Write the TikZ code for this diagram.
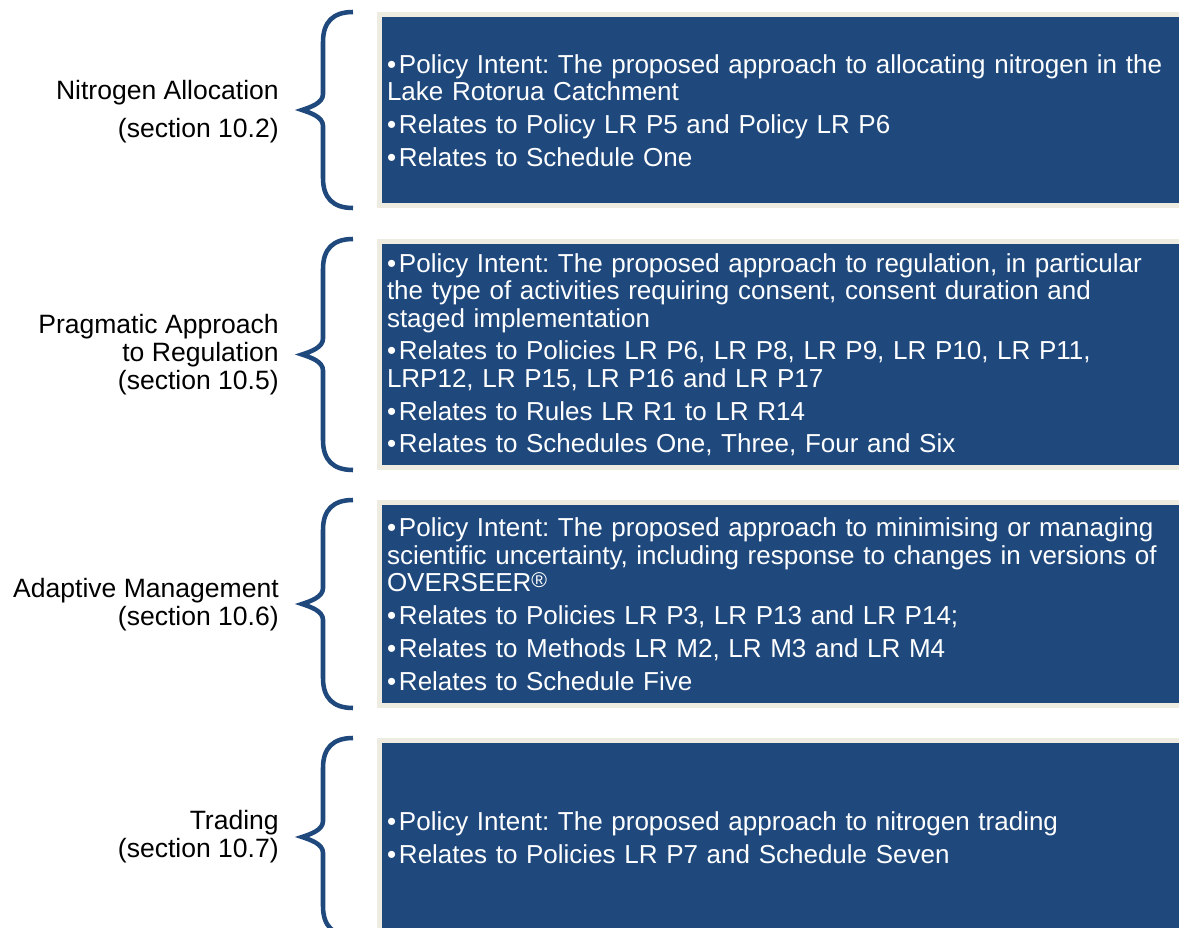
\documentclass[tikz,border=0pt]{standalone}
\usepackage{fontspec}
\setmainfont{Liberation Sans}
\usetikzlibrary{calc}
\definecolor{policyblue}{HTML}{1F497D}
\definecolor{policytan}{HTML}{EEECE1}
\newcommand{\pitem}[1]{\par\hangindent=9pt\hangafter=1\noindent\makebox[9pt][l]{•}#1}
\tikzset{
    policybox/.style={
        rectangle,
        fill=policyblue,
        draw=policytan,
        line width=3.75pt,
        anchor=west,
        text=white,
        text width=700pt,
        align=left,
        inner xsep=6pt,
        inner ysep=0pt,
        font=\fontsize{19.5}{20.6}\selectfont\frenchspacing,
        execute at begin node={\setlength{\parskip}{4pt}\vspace*{-\parskip}},
        execute at end node={\par\vspace*{6pt}}
    },
    topic/.style={
        anchor=east,
        align=right,
        inner sep=0pt,
        font=\fontsize{19.9}{21}\selectfont
    },
    brace/.style={
        draw=policyblue,
        line width=3.4pt
    }
}

\begin{document}
\begin{tikzpicture}[x=0.75pt, y=-0.75pt]
\clip (0,0) rectangle (1179,928);
\fill[white] (0,0) rectangle (1179,928);

% Policy boxes
\node[policybox, minimum height=143.25pt] (alloc) at (376.5,110) {%
\pitem{Policy Intent: The proposed approach to allocating nitrogen in the\\Lake Rotorua Catchment}
\pitem{Relates to Policy LR P5 and Policy LR P6}
\pitem{Relates to Schedule One}};

\node[policybox, minimum height=169.5pt] (regul) at (376.5,354.5) {%
\pitem{Policy Intent: The proposed approach to regulation, in particular\\the type of activities requiring consent, consent duration and\\staged implementation}
\pitem{Relates to Policies LR P6, LR P8, LR P9, LR P10, LR P11,\\LRP12, LR P15, LR P16 and LR P17}
\pitem{Relates to Rules LR R1 to LR R14}
\pitem{Relates to Schedules One, Three, Four and Six}};

\node[policybox, minimum height=152.25pt] (adapt) at (376.5,604) {%
\pitem{Policy Intent: The proposed approach to minimising or managing\\scientific uncertainty, including response to changes in versions of\\OVERSEER\raisebox{3pt}{\fontsize{16}{16}\selectfont ®}}
\pitem{Relates to Policies LR P3, LR P13 and LR P14;}
\pitem{Relates to Methods LR M2, LR M3 and LR M4}
\pitem{Relates to Schedule Five}};

\node[policybox, minimum height=144.75pt] (trade) at (376.5,837) {%
\pitem{Policy Intent: The proposed approach to nitrogen trading}
\pitem{Relates to Policies LR P7 and Schedule Seven}};

% Topic labels
\node[topic] (allocl) at (279,111.5) {Nitrogen Allocation\\[8pt](section 10.2)};
\node[topic] (regull) at (279,355) {Pragmatic Approach\\to Regulation\\(section 10.5)};
\node[topic] (adaptl) at (279,604.5) {Adaptive Management\\(section 10.6)};
\node[topic] (tradel) at (279,836.5) {Trading\\(section 10.7)};

% Braces
\foreach \b in {alloc,regul,adapt,trade} {
  \draw[brace] ($(\b.north west)+(-23.5,0)$) .. controls +(-20,0) and +(0,-20) .. ++(-30,30)
    -- ($(\b.west)+(-53.5,-16)$) .. controls +(0,9) and +(9,-3) .. ($(\b.west)+(-74.5,0)$)
    .. controls +(9,3) and +(0,-9) .. ($(\b.west)+(-53.5,16)$)
    -- ($(\b.south west)+(-53.5,-30)$) .. controls +(0,20) and +(-20,0) .. ($(\b.south west)+(-23.5,0)$);
}
\end{tikzpicture}
\end{document}
